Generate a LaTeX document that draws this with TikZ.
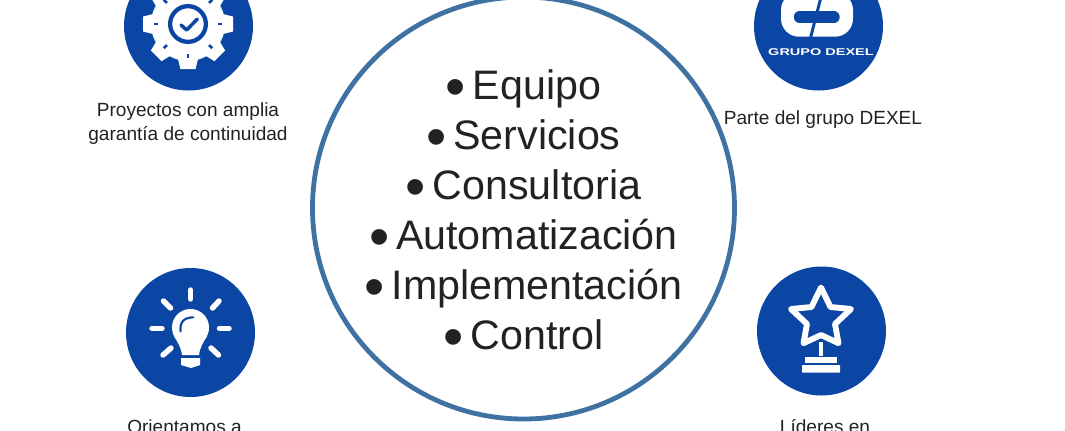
\documentclass[tikz,border=0pt]{standalone}
\usepackage{fontspec}
\usepackage{graphicx}
\setmainfont{Liberation Sans}
\definecolor{ringblue}{HTML}{3F72A3}
\definecolor{iconblue}{HTML}{0B46A5}
\definecolor{inktext}{HTML}{222222}
\newcommand{\hubdot}{\raisebox{-0.19em}{\scalebox{1.4}{•}}\hspace{0.165em}}
\begin{document}
\begin{tikzpicture}[
        x=0.75pt,y=-0.75pt,
        ring/.style={circle,draw=ringblue,line width=3.6pt,minimum size=316.5pt,inner sep=0pt},
        iconbg/.style={circle,fill=iconblue,minimum size=96.75pt,inner sep=0pt},
        caption/.style={text=inktext,align=center,font=\fontsize{14.3}{18}\selectfont,inner sep=0pt},
        bigtext/.style={text=inktext,align=center,font=\fontsize{30.9}{37.5}\selectfont,inner sep=0pt},
        ray/.style={draw=white,line width=4.1pt,line cap=round}
    ]
    \useasboundingbox (0,0) rectangle (1065,430);
    \clip (0,0) rectangle (1065,430);

    % central ring
    \node[ring] (hub) at (523.5,208) {};
    \node[bigtext] (hubtext) at (523.5,213) {\hubdot{}Equipo\\\hubdot{}Servicios\\\hubdot{}Consultoria\\\hubdot{}Automatización\\\hubdot{}Implementación\\\hubdot{}Control};

    % gear
    \node[iconbg] (gearicon) at (188.5,26) {};
    \fill[white] (188,24) circle (27.75pt);
    \foreach \a in {0,45,...,315} {
        \fill[white,rotate around={\a:(188,24)}] (177.5,-9) -- (180.5,-21) -- (195.5,-21) -- (198.5,-9) -- cycle;
        \fill[iconblue,rotate around={\a:(188,24)}] (186.75,-10.25) rectangle (189.25,-5.75);
    }
    \draw[iconblue,line width=3.2pt] (188,24) circle (13.4pt);
    \draw[iconblue,line width=2.6pt,line cap=round,line join=round] (181,25) -- (186.7,30) -- (197.3,19);
    \node[caption] (gearlabel) at (188,123.5) {Proyectos con amplia\\garantía de continuidad};

    % logo
    \node[iconbg] (logoicon) at (818.5,26) {};
    \fill[white,rounded corners=13.5pt] (781,-8) rectangle (853,36.7);
    \draw[iconblue,line width=2.2pt] (821,-3) -- (810.5,38);
    \draw[iconblue,line width=8.6pt,line cap=round] (799.5,17) -- (834,17);
    \node[font=\fontsize{7.4}{10}\selectfont\bfseries,text=white,inner sep=0pt] (logotext) at (821,52) {\scalebox{1.47}[1]{GRUPO DEXEL}};
    \node[caption] (logolabel) at (823,120) {Parte del grupo DEXEL};

    % bulb
    \node[iconbg] (bulbicon) at (190.5,332.5) {};
    \draw[ray] (190.5,290) -- (190.5,299);
    \draw[ray] (152,328.3) -- (162,328.3);
    \draw[ray] (219.5,328.3) -- (229,328.3);
    \draw[ray] (163.5,301) -- (170.5,308);
    \draw[ray] (219,301) -- (212.5,308);
    \draw[ray] (163,355) -- (171,348);
    \draw[ray] (218.5,355) -- (211,348);
    \fill[white] (190.5,327.5) circle (13.9pt);
    \fill[white] (174,336) .. controls (178,343) and (181,347) .. (182,355) -- (199,355) .. controls (200,347) and (203,343) .. (207,336) -- cycle;
    \draw[iconblue,line width=1.6pt,line cap=round] (180.6,331.5) .. controls (179.5,322) and (184,317.5) .. (193.3,317.3);
    \fill[white] (181,358) -- (200,358) -- (200,365) -- (191,368) -- (181,365) -- cycle;
    \node[caption] (bulblabel) at (184.5,426.5) {Orientamos a};

    % star
    \node[iconbg] (staricon) at (821.5,331) {};
    \draw[white,line width=4.4pt,line join=round]
        (821,287.5) -- (830.5,307) -- (851,309) -- (835,324) -- (838.5,343.2) -- (821,335) -- (803.5,343.2) -- (807,324) -- (791,309) -- (811.5,307) -- cycle;
    \fill[white] (818.5,342) rectangle (822.5,356);
    \fill[white] (805,357) rectangle (837,362.5);
    \fill[white,rounded corners=0.5pt] (802,365) rectangle (840,372.7);
    \node[caption] (starlabel) at (825,426.5) {Líderes en};
\end{tikzpicture}
\end{document}
